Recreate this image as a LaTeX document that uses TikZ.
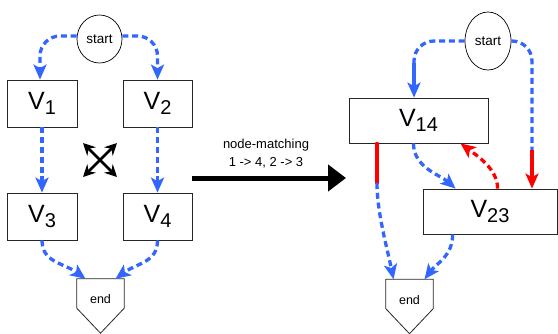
\documentclass[tikz,border=0pt]{standalone}
\usepackage{fontspec}
\setmainfont{Liberation Sans}
\usetikzlibrary{arrows.meta,shapes.geometric,calc}
\definecolor{flowblue}{RGB}{51,102,255}
\definecolor{flowred}{RGB}{255,0,0}
% vertex label: large V with a lowered index
\newcommand{\vlabel}[1]{{\fontsize{25}{28}\selectfont V}\raisebox{-5pt}{\fontsize{20}{23}\selectfont #1}}

\begin{document}
\begin{tikzpicture}[x=1pt,y=-1pt,
  vbox/.style={draw=black!85, line width=0.8pt, fill=white, inner sep=0pt},
  term/.style={ellipse, draw, line width=0.7pt, fill=white, inner sep=0pt,
    font=\fontsize{13.5}{15}\selectfont},
  endbox/.style={inner sep=0pt, minimum width=47pt, minimum height=29pt},
  endshape/.style={draw=black!85, line width=0.8pt, fill=white},
  tipb/.style={-{Stealth[length=15pt,width=13pt,inset=3.5pt]}},
  flow/.style={flowblue, line width=3.3pt, dash pattern=on 6pt off 3.8pt},
  flowarrow/.style={flow, tipb},
  flowsolid/.style={flowblue, line width=3.3pt, tipb},
  redsolid/.style={flowred, line width=3.3pt, line cap=round},
  redarrow/.style={flowred, line width=3.3pt, tipb},
  reddash/.style={flowred, line width=3.3pt, dash pattern=on 6pt off 3.8pt, tipb},
  swap/.style={black, line width=2.5pt, {Stealth[length=12pt,width=12pt]}-{Stealth[length=12pt,width=12pt]}},
  bigarrow/.style={black, line width=5pt, -{Triangle[length=18pt,width=26pt]}},
  caption/.style={font=\fontsize{13}{15}\selectfont, inner sep=0pt},
  endtext/.style={font=\fontsize{12.5}{14}\selectfont, inner sep=0pt}
]
\useasboundingbox (0,0) rectangle (558,333);

% ---------- original graph ----------
\node[term, minimum width=45pt, minimum height=48pt] (startL) at (99.5,39) {start};
\node[vbox, minimum width=70pt, minimum height=47pt] (V1) at (42,103.5) {\vlabel{1}};
\node[vbox, minimum width=69pt, minimum height=47pt] (V2) at (157.5,103.5) {\vlabel{2}};
\node[vbox, minimum width=70pt, minimum height=47pt] (V3) at (42,216.5) {\vlabel{3}};
\node[vbox, minimum width=69pt, minimum height=47pt] (V4) at (157.5,216.5) {\vlabel{4}};
\node[endbox] (endL) at (100.5,293.5) {};
\draw[endshape] (endL.north west) -- (endL.north east) -- (endL.south east)
  -- ($(endL.south)+(0,25)$) -- (endL.south west) -- cycle;
\node[endtext] (endLtxt) at ($(endL.center)+(0,6)$) {end};

\draw[flowarrow, rounded corners=20pt] ($(startL.west)+(0,-3)$) -| ($(V1.north)+(-2,0)$);
\draw[flowarrow, rounded corners=20pt] ($(startL.east)+(0,-3)$) -| (V2.north);
\draw[flowarrow] (V1.south) -- (V3.north);
\draw[flowarrow] (V2.south) -- (V4.north);
\draw[flowarrow] (V3.south) .. controls +(0,22) and +(-22,-16) .. ($(endL.north)+(-15,0)$);
\draw[flowarrow] (V4.south) .. controls +(0,22) and +(22,-16) .. ($(endL.north)+(15,0)$);

% swap marker between the two columns
\coordinate (sw1) at (83,177);
\coordinate (sw2) at (117,143);
\coordinate (sw3) at (83,143);
\coordinate (sw4) at (117,177);
\draw[swap] (sw1) -- (sw2);
\draw[swap] (sw3) -- (sw4);

% ---------- transformation arrow ----------
\coordinate (tA) at (192,178);
\coordinate (tB) at (346,178);
\draw[bigarrow] (tA) -- (tB);
\node[caption] (cap1) at (266,145) {node-matching};
\node[caption] (cap2) at (266,163) {1 -> 4, 2 -> 3};

% ---------- merged graph ----------
\node[term, minimum width=46pt, minimum height=58pt] (startR) at (488,41) {start};
\node[vbox, minimum width=139pt, minimum height=45pt] (V14) at (418.5,120.5) {\vlabel{14}};
\node[vbox, minimum width=134pt, minimum height=45pt] (V23) at (490,211.5) {\vlabel{23}};
\node[endbox] (endR) at (409.5,294) {};
\draw[endshape] (endR.north west) -- (endR.north east) -- (endR.south east)
  -- ($(endR.south)+(0,25)$) -- (endR.south west) -- cycle;
\node[endtext] (endRtxt) at ($(endR.center)+(0,6)$) {end};

% start -> V14
\coordinate (a1) at (414,63);
\draw[flow, rounded corners=20pt] (startR.west) -| (a1);
\draw[flowsolid] (a1) -- (V14.north -| a1);
% start -> V23 (last stretch red)
\coordinate (b1) at (532,150);
\draw[flow, rounded corners=20pt] (startR.east) -| (b1);
\draw[redarrow] (b1) -- (V23.north -| b1);
% V14 -> end (first stretch red)
\coordinate (c1) at (377,183);
\draw[redsolid] (V14.south -| c1) -- (c1);
\draw[flowarrow] (c1) .. controls +(0,30) and +(-6,-30) .. ($(endR.north)+(-16,0)$);
% V14 -> V23
\draw[flowarrow] ($(V14.south)+(-5,0)$) .. controls +(0,24) and +(-16,-14) .. ($(V23.north west)+(33,0)$);
% V23 -> V14 (red, dashed)
\draw[reddash] ($(V23.north west)+(75,0)$) .. controls +(0,-20) and +(16,12) .. ($(V14.south)+(42,0)$);
% V23 -> end
\draw[flowarrow] ($(V23.south west)+(30,0)$) .. controls +(0,22) and +(12,-16) .. ($(endR.north)+(15,0)$);
\end{tikzpicture}
\end{document}
